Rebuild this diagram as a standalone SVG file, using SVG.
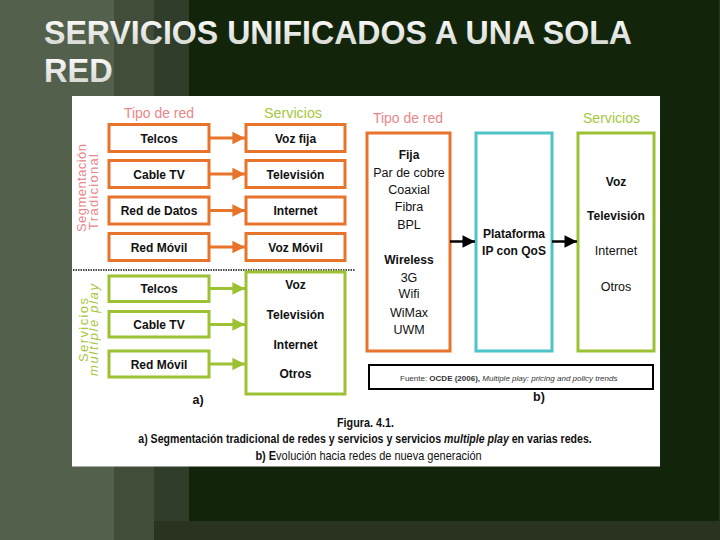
<svg xmlns="http://www.w3.org/2000/svg" width="720" height="540" viewBox="0 0 720 540">
<defs>
<linearGradient id="tg" x1="0" y1="0" x2="0" y2="1">
<stop offset="0" stop-color="#ffffff"/>
<stop offset="1" stop-color="#cfd3cc"/>
</linearGradient>
<marker id="ao" viewBox="0 0 10 10" refX="10" refY="5" markerWidth="4.2" markerHeight="4.6" markerUnits="strokeWidth" orient="auto">
<path d="M0,0 L10,5 L0,10 z" fill="#e8732a"/>
</marker>
<marker id="ag" viewBox="0 0 10 10" refX="10" refY="5" markerWidth="4.2" markerHeight="4.6" markerUnits="strokeWidth" orient="auto">
<path d="M0,0 L10,5 L0,10 z" fill="#9cc234"/>
</marker>
<marker id="ab" viewBox="0 0 10 10" refX="10" refY="5" markerWidth="5.5" markerHeight="5" markerUnits="strokeWidth" orient="auto">
<path d="M0,0 L10,5 L0,10 z" fill="#000"/>
</marker>
</defs>
<style>
text{font-family:"Liberation Sans",Arial,sans-serif}
.ob{fill:#fff;stroke:#e8732a;stroke-width:3}
.gb{fill:#fff;stroke:#9cc234;stroke-width:3}
.t{font-size:12px;font-weight:bold;text-anchor:middle;fill:#111}
.tr{font-size:12.5px;text-anchor:middle;fill:#111}
.hp{font-size:15px;fill:#e8868a}
.hg{font-size:15px;fill:#a4c83c}
.oc{stroke:#e8732a;stroke-width:3;fill:none}
.gc{stroke:#9cc234;stroke-width:3;fill:none}
.bc{stroke:#000;stroke-width:2.5;fill:none}
.cap{font-size:13px;fill:#111;text-anchor:middle}
.fu{font-size:8px;fill:#333}
</style>
<!-- background -->
<rect x="0" y="0" width="720" height="540" fill="#29331f"/>
<rect x="0" y="0" width="114" height="540" fill="#52604c"/>
<rect x="114" y="0" width="40" height="540" fill="#414d39"/>
<rect x="154" y="0" width="35" height="521" fill="#2f3d2a"/>
<rect x="189" y="0" width="530" height="521" fill="#12240a"/>
<!-- title -->
<g id="title" font-size="32.5" font-weight="bold" fill="url(#tg)">
<text x="44" y="44" textLength="588" lengthAdjust="spacingAndGlyphs">SERVICIOS UNIFICADOS A UNA SOLA</text>
<text x="44" y="82">RED</text>
</g>
<!-- panel -->
<rect x="72" y="96" width="588" height="370.5" fill="#fff"/>
<!-- headers a -->
<text class="hp" x="124" y="118" textLength="70" lengthAdjust="spacingAndGlyphs">Tipo de red</text>
<text class="hg" x="264" y="118" textLength="58" lengthAdjust="spacingAndGlyphs">Servicios</text>
<!-- side labels -->
<text font-size="13" fill="#e8868a" text-anchor="middle" transform="translate(86,188) rotate(-90)" textLength="88" lengthAdjust="spacing">Segmentación</text>
<text font-size="13" fill="#e8868a" text-anchor="middle" transform="translate(97.5,192) rotate(-90)" textLength="76" lengthAdjust="spacing">Tradicional</text>
<text font-size="13" fill="#a4c83c" text-anchor="middle" transform="translate(87.5,330) rotate(-90)" textLength="64" lengthAdjust="spacing">Servicios</text>
<text font-size="13" fill="#a4c83c" font-style="italic" text-anchor="middle" transform="translate(98,330) rotate(-90)" textLength="92" lengthAdjust="spacing">multiple play</text>
<!-- dotted separator -->
<line x1="73" y1="270" x2="355" y2="270" stroke="#111" stroke-width="1.5" stroke-dasharray="1.5,1"/>
<!-- orange rows -->
<g id="n-telcos"><rect class="ob" x="109" y="124.5" width="100" height="27"/><text class="t" x="159" y="142.5">Telcos</text></g>
<g id="n-cabletv"><rect class="ob" x="109" y="160.5" width="100" height="27"/><text class="t" x="159" y="178.5">Cable TV</text></g>
<g id="n-datos"><rect class="ob" x="109" y="197" width="100" height="27"/><text class="t" x="159" y="215">Red de Datos</text></g>
<g id="n-movil"><rect class="ob" x="109" y="233.5" width="100" height="27"/><text class="t" x="159" y="251.5">Red Móvil</text></g>
<g id="n-vozfija"><rect class="ob" x="246" y="124.5" width="99" height="27"/><text class="t" x="295.5" y="142.5">Voz fija</text></g>
<g id="n-tv"><rect class="ob" x="246" y="160.5" width="99" height="27"/><text class="t" x="295.5" y="178.5">Televisión</text></g>
<g id="n-internet"><rect class="ob" x="246" y="197" width="99" height="27"/><text class="t" x="295.5" y="215">Internet</text></g>
<g id="n-vozmovil"><rect class="ob" x="246" y="233.5" width="99" height="27"/><text class="t" x="295.5" y="251.5">Voz Móvil</text></g>
<!-- green rows -->
<g id="g-telcos"><rect class="gb" x="109" y="276" width="100" height="25.5"/><text class="t" x="159" y="293">Telcos</text></g>
<g id="g-cabletv"><rect class="gb" x="109" y="311.5" width="100" height="25.5"/><text class="t" x="159" y="328.5">Cable TV</text></g>
<g id="g-movil"><rect class="gb" x="109" y="351" width="100" height="26"/><text class="t" x="159" y="368.5">Red Móvil</text></g>
<g id="g-serv"><rect class="gb" x="246" y="272" width="99" height="122"/>
<text class="t" x="295.5" y="289">Voz</text>
<text class="t" x="295.5" y="319">Televisión</text>
<text class="t" x="295.5" y="349">Internet</text>
<text class="t" x="295.5" y="378">Otros</text></g>
<text class="tr" x="198" y="404" font-weight="bold">a)</text>
<!-- b part -->
<text class="hp" x="373" y="123" textLength="70" lengthAdjust="spacingAndGlyphs">Tipo de red</text>
<text class="hg" x="583" y="123" textLength="57" lengthAdjust="spacingAndGlyphs">Servicios</text>
<g id="b-redes"><rect x="367" y="133" width="83" height="218" fill="#fff" stroke="#e8732a" stroke-width="3"/>
<text class="t" x="409" y="158.5" font-size="13">Fija</text>
<text class="tr" x="409" y="176.5">Par de cobre</text>
<text class="tr" x="409" y="193.5">Coaxial</text>
<text class="tr" x="409" y="211">Fibra</text>
<text class="tr" x="409" y="228.5">BPL</text>
<text class="t" x="409" y="263.5" font-size="13">Wireless</text>
<text class="tr" x="409" y="281.5">3G</text>
<text class="tr" x="409" y="298">Wifi</text>
<text class="tr" x="409" y="316.5">WiMax</text>
<text class="tr" x="409" y="333.5">UWM</text></g>
<g id="b-plataforma"><rect x="476" y="133" width="76" height="218" fill="#fff" stroke="#4cc4c8" stroke-width="3"/>
<text class="t" x="514" y="237.5" font-size="13">Plataforma</text>
<text class="t" x="514" y="254.5" font-size="13">IP con QoS</text></g>
<g id="b-servicios"><rect x="578" y="133" width="76" height="218" fill="#fff" stroke="#9cc234" stroke-width="3"/>
<text class="t" x="616" y="185.5" font-size="13">Voz</text>
<text class="t" x="616" y="219.5" font-size="13">Televisión</text>
<text class="tr" x="616" y="254.5" font-size="13">Internet</text>
<text class="tr" x="616" y="290.5" font-size="13">Otros</text></g>
<g id="fuente"><rect x="369" y="365" width="284" height="24" fill="#fff" stroke="#000" stroke-width="2"/>
<text class="fu" x="400" y="380.5">Fuente: <tspan font-weight="bold">OCDE (2006),</tspan> <tspan font-style="italic">Multiple play: pricing and policy trends</tspan></text></g>
<text class="tr" x="539" y="401" font-weight="bold">b)</text>
<!-- connectors -->
<g id="connectors">
<line class="oc" x1="209" y1="138" x2="245" y2="138" marker-end="url(#ao)"/>
<line class="oc" x1="209" y1="174" x2="245" y2="174" marker-end="url(#ao)"/>
<line class="oc" x1="209" y1="210.5" x2="245" y2="210.5" marker-end="url(#ao)"/>
<line class="oc" x1="209" y1="247" x2="245" y2="247" marker-end="url(#ao)"/>
<line class="gc" x1="209" y1="288.5" x2="245" y2="288.5" marker-end="url(#ag)"/>
<line class="gc" x1="209" y1="324.5" x2="245" y2="324.5" marker-end="url(#ag)"/>
<line class="gc" x1="209" y1="364" x2="245" y2="364" marker-end="url(#ag)"/>
<line class="bc" x1="450" y1="241.5" x2="475" y2="241.5" marker-end="url(#ab)"/>
<line class="bc" x1="552" y1="241.5" x2="577" y2="241.5" marker-end="url(#ab)"/>
</g>
<!-- caption -->
<g id="caption">
<text class="cap" font-weight="bold" transform="translate(365.5,427) scale(0.83,1)">Figura. 4.1.</text>
<text class="cap" font-weight="bold" transform="translate(365,443) scale(0.815,1)">a) Segmentación tradicional de redes y servicios y servicios <tspan font-style="italic">multiple play</tspan> en varias redes.</text>
<text class="cap" transform="translate(368.5,460) scale(0.845,1)"><tspan font-weight="bold">b) E</tspan>volución hacia redes de nueva generación</text>
</g>
</svg>
